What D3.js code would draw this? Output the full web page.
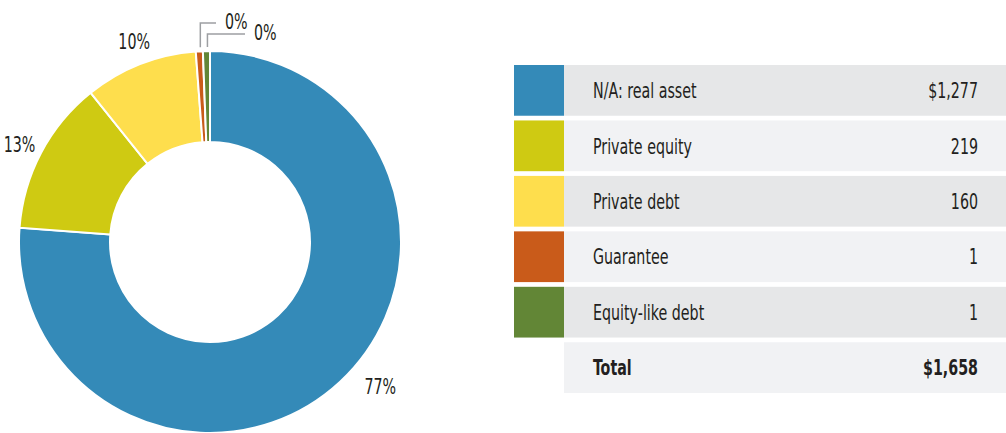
<!DOCTYPE html>
<html>
<head>
<meta charset="utf-8">
<script src="https://cdn.jsdelivr.net/npm/d3@7"></script>
<style>
	body { margin: 0; background: #fff; }
	text { font-family: "Liberation Sans Narrow", "DejaVu Sans Condensed", "DejaVu Sans", sans-serif; fill: #231f20; }
</style>
</head>
<body>
<svg id="chart" width="1006" height="433"></svg>
<script>
	/**
	 * Data
	 */
	const categories = ["N/A: real asset", "Private equity", "Private debt", "Guarantee", "Equity-like debt"];
	const values = [1277, 219, 160, 1, 1];
	const valueLabels = ["$1,277", "219", "160", "1", "1"];
	const pctLabels = ["77%", "13%", "10%", "0%", "0%"];
	const totalLabel = "Total";
	const totalValue = "$1,658";
	const colors = ["#348ab8", "#cfca12", "#fede4d", "#c95b1a", "#628636"];

	/**
	 * Dimensions
	 */
	let width = 1006;
	let height = 433;
	let cx = 210, cy = 242;
	let outerR = 191, innerR = 100;
	let squeeze = 0.72; // condensed look: no narrow font installed

	let svg = d3.select("#chart");

	// text placed at (x, y) and squeezed horizontally
	function label(parent, x, y, str, anchor, size, bold) {
		return parent.append("g")
			.attr("transform", "translate(" + x + "," + y + ") scale(" + squeeze + ",1)")
			.append("text")
			.attr("dy", "0.35em")
			.attr("text-anchor", anchor || "start")
			.style("font-size", (size || 22) + "px")
			.style("font-weight", bold ? "bold" : "normal")
			.text(str);
	}

	// tiny slices get a minimum size so they stay visible
	let total = d3.sum(values);
	let pie = d3.pie().sort(null).value(function(d) { return Math.max(d, total * 0.006); });
	let arcs = pie(values);
	let arc = d3.arc().innerRadius(innerR).outerRadius(outerR);

	let donut = svg.append("g").attr("transform", "translate(" + cx + "," + cy + ")");

	donut.selectAll("path.slice").data(arcs).enter().append("path")
		.attr("class", "slice")
		.attr("d", arc)
		.style("fill", function(d, i) { return colors[i]; })
		.style("stroke", "#fff")
		.style("stroke-width", 2);

	// Percent labels for the big slices
	let labelR = 221;
	arcs.filter(function(d) { return d.value > total * 0.05; }).forEach(function(d) {
		let a = (d.startAngle + d.endAngle) / 2;
		let right = a < Math.PI;
		let lx = labelR * Math.sin(a) + (right ? 20 : 5);
		let ly = -labelR * Math.cos(a) + (right ? -18 : 5);
		label(donut, lx, ly, pctLabels[d.index], "middle");
	});

	// Leader lines for the tiny slices
	let tiny = arcs.filter(function(d) { return d.value <= total * 0.05; });
	let leaderY = [-219, -208];
	let leaderEnd = [6, 35];
	tiny.forEach(function(d, k) {
		let a = (d.startAngle + d.endAngle) / 2;
		let x0 = outerR * Math.sin(a) + 1;
		let y0 = -outerR * Math.cos(a) - 4;
		donut.append("polyline")
			.attr("points", [[x0, y0], [x0, leaderY[k]], [leaderEnd[k], leaderY[k]]].map(function(p) { return p.join(","); }).join(" "))
			.style("fill", "none")
			.style("stroke", "#9d9fa2")
			.style("stroke-width", 1.5);
		label(donut, leaderEnd[k] + 9, leaderY[k] - 2, pctLabels[d.index], "start");
	});

	/**
	 * Table legend
	 */
	let rows = categories.map(function(c, i) { return { name: c, value: valueLabels[i], color: colors[i] }; });
	rows.push({ name: totalLabel, value: totalValue, color: null, bold: true });

	let yScale = d3.scaleBand().domain(d3.range(rows.length)).range([65, 393]).paddingInner(0.085).paddingOuter(0);
	let swatchX = 514, swatchW = 50, rowX = 564, rowRight = 1006;

	let row = svg.selectAll("g.row").data(rows).enter().append("g")
		.attr("class", "row")
		.attr("transform", function(d, i) { return "translate(0," + yScale(i) + ")"; });

	row.append("rect")
		.attr("x", rowX)
		.attr("width", rowRight - rowX)
		.attr("height", yScale.bandwidth())
		.style("fill", function(d, i) { return i % 2 === 0 ? "#e6e7e8" : "#f1f2f4"; });

	row.filter(function(d) { return d.color; }).append("rect")
		.attr("x", swatchX)
		.attr("width", swatchW)
		.attr("height", yScale.bandwidth())
		.style("fill", function(d) { return d.color; });

	row.each(function(d) {
		let g = d3.select(this);
		label(g, 593, yScale.bandwidth() / 2, d.name, "start", 22, d.bold);
		label(g, 978, yScale.bandwidth() / 2, d.value, "end", 22, d.bold);
	});
</script>
</body>
</html>
